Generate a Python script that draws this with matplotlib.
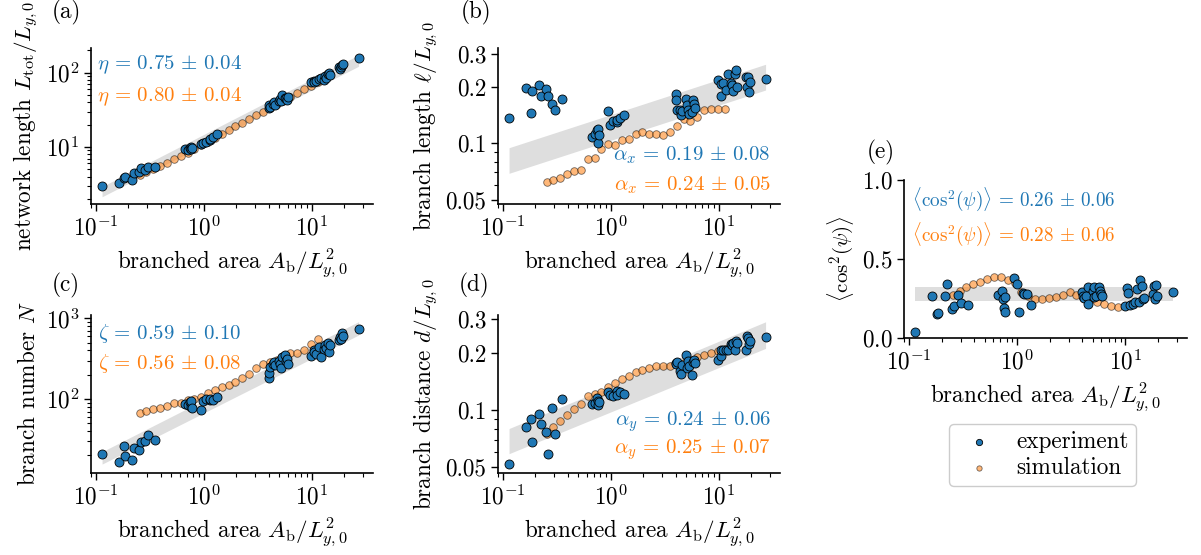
import matplotlib
matplotlib.use("Agg")
import matplotlib.pyplot as plt
from matplotlib.ticker import NullFormatter

plt.rcParams.update({
    "font.family": "serif",
    "font.serif": ["cmr10"],
    "mathtext.fontset": "cm",
    "axes.formatter.use_mathtext": True,
    "font.size": 16.7,
    "axes.linewidth": 1.2,
    "xtick.major.size": 5,
    "ytick.major.size": 5,
    "xtick.minor.size": 3,
    "ytick.minor.size": 3,
    "xtick.major.width": 1.0,
    "ytick.major.width": 1.0,
    "xtick.minor.width": 0.8,
    "ytick.minor.width": 0.8,
})

BLUE = "tab:blue"
ORANGE = "tab:orange"

# experiments: branched area and measured network observables
exp_area = [0.114, 0.162, 0.182, 0.184, 0.216, 0.226, 0.250, 0.261, 0.283, 0.305, 0.350,
            0.667, 0.719, 0.742, 0.758, 0.766, 0.774, 0.938, 0.985, 1.037, 1.129, 1.144, 1.224, 1.328,
            4.00, 4.02, 4.15, 4.35, 4.51, 4.54, 5.02, 5.08, 5.16, 5.35, 5.71, 5.78, 5.90, 6.03,
            9.94, 10.4, 10.6, 10.9, 11.8, 12.3, 12.9, 13.4, 13.7, 14.1, 14.6, 14.8, 17.8, 18.3,
            18.7, 19.1, 19.4, 27.2]
exp_length = [3.0, 3.3, 3.8, 3.9, 3.6, 4.5, 4.6, 5.2, 4.9, 5.4, 5.4,
              9.4, 9.0, 9.6, 10.1, 9.3, 9.8, 11.0, 11.2, 11.8, 12.4, 12.8, 13.5, 15.0,
              33, 37, 35, 38, 40, 37, 42, 44, 41, 50, 46, 45, 43, 47,
              75, 78, 74, 77, 82, 85, 80, 90, 86, 96, 100, 92, 120, 113,
              118, 128, 131, 158]
exp_branch_len = [0.137, 0.196, 0.145, 0.190, 0.205, 0.178, 0.194, 0.179, 0.161, 0.150, 0.173,
                  0.108, 0.112, 0.117, 0.119, 0.101, 0.111, 0.149, 0.125, 0.132, 0.130, 0.133, 0.137, 0.141,
                  0.182, 0.170, 0.150, 0.150, 0.141, 0.149, 0.173, 0.160, 0.150, 0.144, 0.147, 0.170, 0.162, 0.154,
                  0.217, 0.178, 0.207, 0.208, 0.192, 0.233, 0.210, 0.205, 0.190, 0.233, 0.244, 0.198, 0.224, 0.198,
                  0.225, 0.188, 0.213, 0.219]
exp_number = [21, 16.5, 26, 19.5, 17.5, 25, 23, 29, 30.5, 36, 31,
              86, 84, 92, 80, 95, 78, 74, 95, 100, 97, 100, 98, 106,
              180, 208, 250, 268, 290, 262, 300, 270, 245, 330, 350, 295, 310, 275,
              340, 410, 380, 360, 445, 330, 420, 470, 430, 500, 385, 470, 540, 580,
              560, 650, 610, 730]
exp_distance = [0.052, 0.081, 0.090, 0.068, 0.095, 0.085, 0.077, 0.059, 0.102, 0.075, 0.114,
                0.107, 0.109, 0.116, 0.112, 0.106, 0.110, 0.124, 0.120, 0.118, 0.126, 0.120, 0.125, 0.121,
                0.177, 0.174, 0.178, 0.160, 0.154, 0.172, 0.195, 0.167, 0.181, 0.170, 0.153, 0.180, 0.183, 0.176,
                0.184, 0.192, 0.207, 0.208, 0.207, 0.208, 0.222, 0.221, 0.224, 0.206, 0.232, 0.226, 0.207, 0.246,
                0.238, 0.222, 0.232, 0.243]
exp_orient = [0.038, 0.266, 0.155, 0.160, 0.266, 0.343, 0.185, 0.204, 0.275, 0.223, 0.209,
              0.27, 0.30, 0.245, 0.19, 0.165, 0.26, 0.378, 0.34, 0.166, 0.285, 0.28, 0.28, 0.208,
              0.29, 0.265, 0.255, 0.265, 0.32, 0.215, 0.30, 0.26, 0.32, 0.265, 0.32, 0.30, 0.28, 0.265,
              0.205, 0.315, 0.285, 0.21, 0.215, 0.23, 0.31, 0.23, 0.37, 0.33, 0.25, 0.255, 0.28, 0.33,
              0.25, 0.335, 0.265, 0.29]

# simulations
sim_area = [0.254, 0.294, 0.340, 0.394, 0.455, 0.527, 0.610, 0.706, 0.817, 0.946, 1.095, 1.268,
            1.466, 1.698, 1.965, 2.275, 2.63, 3.05, 3.52, 4.08, 4.72, 5.47, 6.32, 7.33, 8.47, 9.82, 11.35]
sim_length = [4.2, 4.6, 5.0, 5.5, 6.1, 6.8, 7.5, 8.4, 9.4, 10.6, 11.8, 13.3, 15.0, 16.9, 18.9,
              21.2, 23.8, 26.8, 30.0, 33.6, 37.6, 42.2, 47.3, 53.1, 59.5, 66.8, 75]
sim_branch_len = [0.0626, 0.0636, 0.0657, 0.0685, 0.0710, 0.0719, 0.0823, 0.0836, 0.0937, 0.0992,
                  0.0984, 0.1041, 0.1054, 0.1121, 0.1144, 0.1121, 0.1121, 0.1107, 0.1148, 0.1241,
                  0.1346, 0.1319, 0.1374, 0.1503, 0.1521, 0.1515, 0.1515]
sim_number = [68, 72, 75, 78, 82, 90, 88, 96, 100, 107, 118, 128, 140, 148, 161, 184, 204, 240,
              272, 288, 302, 340, 367, 377, 400, 480, 550]
sim_distance = [0.0745, 0.081, 0.088, 0.094, 0.101, 0.108, 0.119, 0.121, 0.125, 0.1326, 0.138,
                0.145, 0.151, 0.158, 0.162, 0.166, 0.171, 0.171, 0.171, 0.174, 0.176, 0.183, 0.191,
                0.195, 0.199, 0.204, 0.209]
sim_orient = [0.27, 0.30, 0.325, 0.343, 0.352, 0.375, 0.385, 0.385, 0.365, 0.345, 0.29, 0.265,
              0.25, 0.248, 0.253, 0.258, 0.275, 0.29, 0.275, 0.255, 0.24, 0.225, 0.215, 0.2, 0.198,
              0.205, 0.215]

# fitted bands (lower / upper edge at both ends of the experimental range)
band_area = [0.114, 27.2]
band_length = ([2.14, 122], [2.93, 173])
band_branch_len = ([0.0693, 0.192], [0.0948, 0.263])
band_number = ([15.6, 621], [22.2, 910])
band_distance = ([0.059, 0.211], [0.080, 0.291])
band_orient = ([0.236, 0.236], [0.321, 0.321])

COS2 = r"\langle\mathrm{cos}^2(\psi)\rangle"
fits = {
    "a": (r"$\eta\,=\,0.75\,\pm\,0.04$", r"$\eta\,=\,0.80\,\pm\,0.04$"),
    "b": (r"$\alpha_x\,=\,0.19\,\pm\,0.08$", r"$\alpha_x\,=\,0.24\,\pm\,0.05$"),
    "c": (r"$\zeta\,=\,0.59\,\pm\,0.10$", r"$\zeta\,=\,0.56\,\pm\,0.08$"),
    "d": (r"$\alpha_y\,=\,0.24\,\pm\,0.06$", r"$\alpha_y\,=\,0.25\,\pm\,0.07$"),
    "e": (rf"${COS2}\,=\,0.26\,\pm\,0.06$", rf"${COS2}\,=\,0.28\,\pm\,0.06$"),
}

W, H = 1201, 555
fig = plt.figure(figsize=(W / 100, H / 100), dpi=100)


def add_axes_px(x0, y0, x1, y1):
    return fig.add_axes([x0 / W, 1 - y1 / H, (x1 - x0) / W, (y1 - y0) / H])


def panel(ax, exp_y, sim_y, band, ylabel, texts, text_pos, ha="left", text_size=15.0,
          label_size=None):
    ax.fill_between(band_area, band[0], band[1], color="0.87", lw=0, zorder=1)
    ax.scatter(sim_area, sim_y, s=30, color=ORANGE, alpha=0.55, edgecolors="k",
               linewidths=0.6, zorder=2, label="simulation")
    ax.scatter(exp_area, exp_y, s=42, color=BLUE, edgecolors="k",
               linewidths=0.6, zorder=3, label="experiment")
    ax.set_xscale("log")
    ax.set_xlim(0.09, 37)
    ax.set_xlabel(r"branched area $A_{\rm b}/L_{y,0}^2$")
    ax.set_ylabel(ylabel, fontsize=label_size)
    for s in ("top", "right"):
        ax.spines[s].set_visible(False)
    tx, ty1, ty2 = text_pos
    ax.text(tx, ty1, texts[0], color=BLUE, ha=ha, va="center", fontsize=text_size,
            transform=ax.transAxes)
    ax.text(tx, ty2, texts[1], color=ORANGE, ha=ha, va="center", fontsize=text_size,
            transform=ax.transAxes)


def frac_ticks(ax, ticks, labels):
    ax.set_yticks(ticks)
    ax.set_yticklabels(labels)
    ax.yaxis.set_minor_formatter(NullFormatter())


ax_a = add_axes_px(91, 48, 373, 204)
panel(ax_a, exp_length, sim_length, band_length,
      r"network length $L_{\rm tot}/L_{y,0}$", fits["a"], (0.02, 0.89, 0.69))
ax_a.set_yscale("log")
ax_a.set_ylim(1.71, 215)

ax_b = add_axes_px(498, 48, 780, 204)
panel(ax_b, exp_branch_len, sim_branch_len, band_branch_len,
      r"branch length $\ell/L_{y,0}$", fits["b"], (0.967, 0.31, 0.12), ha="right")
ax_b.set_yscale("log")
ax_b.set_ylim(0.0476, 0.321)
frac_ticks(ax_b, [0.05, 0.1, 0.2, 0.3], ["0.05", "0.1", "0.2", "0.3"])

ax_c = add_axes_px(91, 315, 373, 473)
panel(ax_c, exp_number, sim_number, band_number,
      r"branch number $N$", fits["c"], (0.025, 0.886, 0.696))
ax_c.set_yscale("log")
ax_c.set_ylim(12.1, 1100)

ax_d = add_axes_px(498, 315, 780, 473)
panel(ax_d, exp_distance, sim_distance, band_distance,
      r"branch distance $d/L_{y,0}$", fits["d"], (0.967, 0.325, 0.146), ha="right")
ax_d.set_yscale("log")
ax_d.set_ylim(0.0467, 0.316)
frac_ticks(ax_d, [0.05, 0.1, 0.2, 0.3], ["0.05", "0.1", "0.2", "0.3"])

ax_e = add_axes_px(904, 180, 1187, 338)
panel(ax_e, exp_orient, sim_orient, band_orient,
      rf"${COS2}$", fits["e"], (0.027, 0.878, 0.656), text_size=13.8, label_size=15)
ax_e.set_ylim(0, 1)
ax_e.set_yticks([0.0, 0.5, 1.0])

handles, labels = ax_e.get_legend_handles_labels()
ax_e.legend(handles[::-1], labels[::-1], loc="upper center", bbox_to_anchor=(0.489, -0.544),
            borderaxespad=0, markerscale=0.7, handlelength=2.0, handletextpad=0.6,
            labelspacing=0.15, borderpad=0.3, edgecolor="0.8", framealpha=1)

for letter, (px, py) in zip("abcde", [(66, 12), (476, 12), (66, 285), (474, 285), (881, 152)]):
    fig.text(px / W, 1 - py / H, f"({letter})", ha="center", va="center")

fig.savefig("out.png", dpi=100)
